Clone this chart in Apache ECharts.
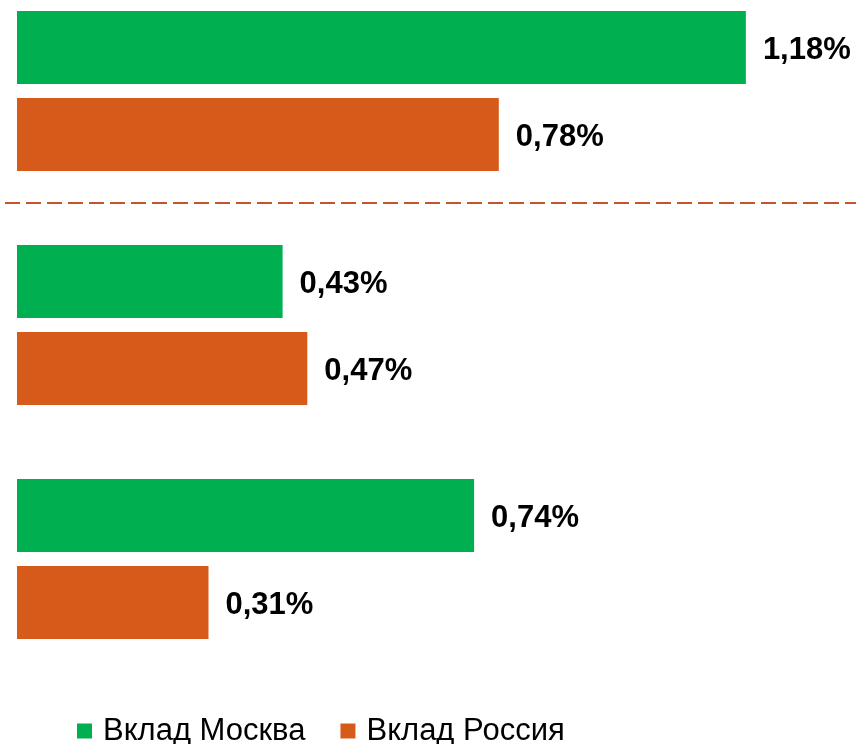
<!DOCTYPE html>
<html>
<head>
<meta charset="utf-8">
<script src="https://cdn.jsdelivr.net/npm/echarts@6/dist/echarts.min.js"></script>
<style>
  html, body { margin: 0; padding: 0; background: #fff; }
  #chart { width: 856px; height: 744px; }
</style>
</head>
<body>
<div id="chart"></div>
<script>
// данные
const categories = ['Группа 1', 'Группа 2', 'Группа 3'];
const seriesNames = ['Вклад Москва', 'Вклад Россия'];
const moscow = [1.18, 0.43, 0.74];
const russia = [0.78, 0.47, 0.31];
const colors = ['#00B050', '#D65A1A'];

const font = '"Liberation Sans", Arial, sans-serif';

function pct(p) {
  return p.value.toFixed(2).replace('.', ',') + '%';
}

function barSeries(name, data, color) {
  return {
    name: name,
    type: 'bar',
    data: data,
    barWidth: 73,
    barGap: '19%',
    itemStyle: { color: color },
    label: {
      show: true,
      position: 'right',
      distance: 17,
      offset: [0, 3],
      formatter: pct,
      fontFamily: font,
      fontSize: 31,
      fontWeight: 'bold',
      color: '#000'
    }
  };
}

const myChart = echarts.init(document.getElementById('chart'));
const option = {
  animation: false,
  // категории стоят на делениях (boundaryGap: false), шаг 234px
  grid: {
    left: 17,
    right: 36,
    top: 91,
    bottom: 185
  },
  xAxis: {
    type: 'value',
    min: 0,
    max: 1.3,
    show: false
  },
  yAxis: {
    type: 'category',
    data: categories,
    inverse: true,
    boundaryGap: false,
    show: false
  },
  legend: {
    data: seriesNames,
    left: 77,
    top: 715,
    padding: 0,
    icon: 'rect',
    itemWidth: 15,
    itemHeight: 15,
    itemGap: 35,
    textStyle: {
      fontFamily: font,
      fontSize: 31,
      lineHeight: 32,
      color: '#000',
      padding: [0, 0, 0, 6]
    }
  },
  // пунктирный разделитель между первой группой и остальными
  graphic: [{
    type: 'line',
    shape: { x1: 5, y1: 203, x2: 856, y2: 203 },
    style: { stroke: '#C4542A', lineWidth: 2, lineDash: [15, 6] }
  }],
  series: [
    barSeries(seriesNames[0], moscow, colors[0]),
    barSeries(seriesNames[1], russia, colors[1])
  ]
};
myChart.setOption(option);
</script>
</body>
</html>
